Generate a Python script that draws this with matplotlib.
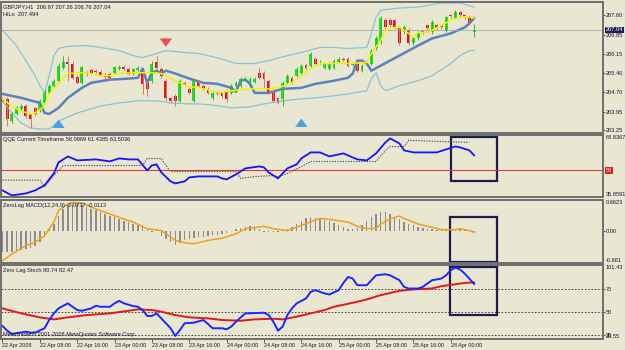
import matplotlib
matplotlib.use('Agg')
import matplotlib.pyplot as plt
import matplotlib.transforms as mtrans
from matplotlib.patches import Rectangle
import numpy as np

plt.rcParams['font.family'] = ['Liberation Sans', 'DejaVu Sans']

# ---- GBPJPY H1 candles (bar 0 = 22 Apr 2008 00:00) ----
opens = [204.43, 204.43, 203.59, 203.86, 204.05, 204.16, 203.86, 204.09, 203.97, 204.28,
         204.66, 204.93, 205.12, 205.62, 205.81, 205.77, 205.27, 205.04, 205.42, 205.54,
         205.50, 205.46, 205.35, 205.39, 205.42, 205.58, 205.65, 205.58, 205.39, 205.54,
         205.42, 205.04, 205.12, 205.81, 205.58, 205.12, 204.47, 204.55, 204.36, 205.04,
         204.81, 204.36, 205.08, 204.93, 204.81, 204.47, 204.66, 204.66, 204.74, 204.66,
         204.93, 204.93, 205.16, 204.93, 205.08, 205.42, 205.42, 205.12, 204.74, 204.47,
         204.43, 205.04, 205.23, 205.31, 205.42, 205.73, 205.69, 205.96, 205.81, 205.62,
         205.58, 205.62, 205.84, 205.96, 205.96, 205.73, 205.81, 205.50, 205.84, 205.77,
         206.34, 206.57, 207.41, 207.41, 207.41, 207.14, 206.95, 207.03, 206.53, 206.72,
         206.99, 207.22, 206.95, 207.22, 207.22, 207.03, 207.60, 207.49, 207.71, 207.60,
         207.49, 206.97]
highs = [204.50, 204.50, 203.92, 204.18, 204.24, 204.22, 203.90, 204.14, 204.42, 204.80,
         205.00, 205.18, 205.78, 206.07, 206.07, 205.85, 205.33, 205.68, 205.48, 205.60,
         205.56, 205.52, 205.40, 205.46, 205.68, 205.72, 205.70, 205.64, 205.62, 205.69,
         205.48, 205.08, 205.85, 206.07, 205.64, 205.20, 204.52, 204.60, 205.18, 205.10,
         204.88, 205.18, 205.14, 205.00, 204.88, 204.72, 204.72, 204.70, 204.80, 204.98,
         205.10, 205.26, 205.26, 205.26, 205.26, 205.62, 205.50, 205.18, 204.80, 204.52,
         205.10, 205.36, 205.30, 205.64, 205.76, 205.80, 206.20, 206.02, 205.90, 205.84,
         205.84, 205.94, 206.02, 206.00, 206.02, 205.84, 205.86, 205.76, 205.90, 206.32,
         206.80, 207.56, 207.50, 207.50, 207.46, 207.20, 207.22, 207.10, 206.78, 207.00,
         207.05, 207.28, 207.40, 207.30, 207.28, 207.58, 207.66, 207.78, 207.76, 207.66,
         207.56, 207.26]
lows = [204.30, 203.40, 203.52, 203.82, 204.00, 203.72, 203.33, 203.80, 203.92, 204.22,
        204.60, 204.88, 205.05, 205.55, 205.12, 205.18, 204.98, 204.98, 205.30, 205.36,
        205.40, 205.30, 205.20, 205.16, 205.36, 205.52, 205.52, 205.32, 205.34, 205.48,
        204.62, 204.55, 205.05, 205.55, 205.24, 204.40, 204.28, 204.16, 204.30, 204.92,
        204.60, 204.30, 204.88, 204.75, 204.60, 204.40, 204.56, 204.48, 204.30, 204.60,
        204.88, 204.88, 205.10, 204.88, 205.02, 205.18, 204.85, 204.60, 204.30, 204.22,
        204.16, 204.98, 204.98, 205.25, 205.36, 205.56, 205.62, 205.72, 205.76, 205.56,
        205.52, 205.56, 205.78, 205.86, 205.64, 205.66, 205.44, 205.44, 205.76, 205.70,
        206.28, 206.50, 207.08, 207.16, 207.08, 206.46, 206.90, 206.46, 206.48, 206.66,
        206.90, 207.04, 206.88, 207.04, 207.08, 206.98, 207.50, 207.44, 207.54, 207.46,
        207.24, 206.76]
closes = [204.36, 203.67, 203.86, 204.13, 204.16, 203.78, 203.67, 203.86, 204.36, 204.74,
          204.93, 205.12, 205.69, 205.81, 205.77, 205.23, 205.04, 205.62, 205.39, 205.42,
          205.46, 205.35, 205.27, 205.23, 205.62, 205.65, 205.58, 205.39, 205.58, 205.62,
          205.00, 204.81, 205.77, 205.62, 205.31, 204.47, 204.36, 204.36, 205.12, 204.97,
          204.66, 205.12, 204.93, 204.81, 204.66, 204.66, 204.62, 204.55, 204.43, 204.93,
          205.04, 205.20, 205.20, 205.20, 205.20, 205.23, 205.20, 204.66, 204.36, 204.28,
          205.04, 205.31, 205.04, 205.58, 205.69, 205.62, 206.15, 205.77, 205.84, 205.77,
          205.77, 205.88, 205.96, 205.92, 205.69, 205.77, 205.50, 205.69, 205.81, 206.26,
          206.72, 207.49, 207.14, 207.22, 207.14, 206.53, 207.14, 206.53, 206.72, 206.95,
          206.95, 207.10, 207.33, 207.10, 207.14, 207.52, 207.56, 207.71, 207.60, 207.52,
          207.29, 207.04]

# ---- main panel overlays (sampled at bar index) ----
ma_bars = [0, 2, 4, 6, 7, 9, 10, 12, 13, 14, 17, 19, 21, 23, 25, 27, 29, 32, 34, 35, 37, 40, 42, 44,
           46, 49, 53, 57, 59, 62, 64, 66, 68, 71, 74, 78, 79, 81, 82, 84, 85, 87, 88, 89, 91, 92,
           94, 96, 98, 100, 101]
ma_vals = [204.43, 204.16, 203.97, 203.86, 203.90, 204.16, 204.62, 205.00, 205.23, 205.39, 205.42,
           205.39, 205.31, 205.31, 205.39, 205.42, 205.42, 205.42, 205.39, 205.31, 205.12, 204.89,
           204.85, 204.78, 204.66, 204.74, 204.81, 204.81, 204.85, 205.04, 205.31, 205.58, 205.77,
           205.77, 205.77, 205.81, 206.15, 206.65, 207.03, 207.14, 207.14, 206.91, 206.76, 206.95,
           206.95, 207.03, 207.22, 207.41, 207.52, 207.56, 207.49]

trail_bars = [0, 4, 8, 9, 10, 12, 14, 17, 19, 23, 27, 29, 30, 31, 32, 33, 34, 35, 37, 40, 43, 46,
              49, 50, 51, 52, 53, 54, 57, 60, 64, 67, 71, 74, 75, 76, 77, 78, 79, 81, 85, 89, 92,
              96, 99, 100, 101]
trail_vals = [204.62, 204.47, 204.28, 203.90, 203.86, 204.09, 204.47, 204.85, 205.04, 205.16,
              205.20, 205.23, 205.58, 205.04, 205.42, 205.50, 205.39, 205.50, 205.39, 205.20,
              205.04, 205.00, 204.85, 204.70, 205.12, 205.16, 205.00, 204.66, 204.66, 204.81,
              204.85, 205.00, 205.12, 205.23, 205.39, 205.88, 205.88, 205.77, 205.50, 205.69,
              206.07, 206.45, 206.72, 206.91, 207.14, 207.29, 207.49]

bb_up_bars = [0, 3, 5, 7, 8, 9, 10, 11, 12, 14, 18, 21, 25, 28, 30, 33, 35, 39, 42, 46, 50, 54,
              57, 61, 64, 68, 71, 74, 78, 79, 80, 81, 85, 89, 94, 98, 101]
bb_up_vals = [207.03, 206.45, 205.88, 205.31, 204.93, 204.66, 205.31, 206.07, 206.34, 206.42,
              206.45, 206.38, 206.26, 206.07, 205.99, 206.15, 206.26, 206.19, 206.15, 205.99,
              205.77, 205.77, 205.88, 206.07, 206.19, 206.38, 206.38, 206.34, 206.38, 206.91,
              207.52, 207.79, 207.87, 207.91, 208.06, 208.06, 207.91]
bb_lo_bars = [0, 2, 4, 6, 8, 10, 12, 16, 21, 25, 29, 33, 36, 40, 42, 45, 49, 53, 56, 60, 64, 67,
              71, 74, 78, 79, 80, 81, 82, 85, 89, 92, 96, 98, 100, 101]
bb_lo_vals = [204.36, 203.90, 203.52, 203.33, 203.29, 203.29, 203.59, 203.90, 204.16, 204.28,
              204.36, 204.36, 204.28, 204.24, 204.24, 204.20, 204.09, 204.13, 204.24, 204.36,
              204.43, 204.47, 204.55, 204.62, 204.74, 205.20, 205.42, 204.93, 204.74, 204.93,
              205.12, 205.31, 205.77, 206.07, 206.26, 206.26]

arrow_dn_bars = [35]
arrow_dn_vals = [206.30]
arrow_up_bars = [12, 64]
arrow_up_vals = [203.75, 203.79]
price_ticks = [207.60, 206.85, 206.15, 205.40, 204.70, 203.95, 203.25]

# ---- QQE ----
qqe_bars = [0, 2, 5, 7, 9, 11, 12, 14, 15, 16, 20, 23, 25, 27, 29, 31, 32, 33, 34, 36, 37, 39, 40,
            42, 46, 47, 48, 50, 52, 55, 56, 57, 59, 61, 63, 64, 66, 68, 70, 73, 75, 76, 78, 80, 82,
            83, 85, 86, 88, 92, 93, 95, 97, 98, 100, 101]
qqe_vals = [39.37, 36.71, 37.77, 39.37, 42.03, 48.41, 54.26, 57.45, 56.39, 55.33, 55.86, 54.80,
            56.39, 55.86, 55.86, 50.00, 52.67, 53.20, 48.94, 44.15, 43.09, 44.15, 46.28, 46.81,
            46.81, 45.75, 45.22, 47.88, 51.07, 52.14, 51.60, 48.94, 45.75, 51.07, 53.20, 56.39,
            59.58, 59.58, 57.45, 59.05, 56.92, 55.86, 55.33, 59.05, 64.90, 67.03, 64.37, 60.65,
            59.58, 59.58, 59.58, 61.18, 62.77, 62.24, 60.65, 57.99]
qqe_trail_bars = [0, 8, 9, 11, 13, 30, 31, 34, 35, 36, 50, 51, 54, 58, 59, 61, 64, 66, 80, 82, 83,
                  86, 87, 100]
qqe_trail_vals = [44.84, 44.84, 41.43, 47.28, 52.60, 52.60, 56.32, 56.32, 52.60, 49.41, 49.41,
                  45.69, 46.75, 47.28, 46.75, 48.35, 52.07, 54.73, 54.73, 60.58, 62.71, 62.71,
                  65.97, 64.90]

# ---- ZeroLag MACD ----
macd_hist = [-0.45, -0.45, -0.44, -0.42, -0.40, -0.38, -0.36, -0.31, -0.24, -0.13,
             0.05, 0.15, 0.33, 0.47, 0.55, 0.60, 0.58, 0.55, 0.51, 0.47,
             0.44, 0.40, 0.37, 0.33, 0.29, 0.26, 0.22, 0.19, 0.15, 0.12,
             0.08, 0.02, -0.03, 0.02, -0.10, -0.17, -0.24, -0.29, -0.25, -0.20,
             -0.17, -0.15, -0.13, -0.12, -0.10, -0.09, -0.08, -0.06, -0.04, 0.01,
             0.04, 0.06, 0.08, 0.10, 0.09, 0.05, -0.01, -0.03, -0.02, -0.01,
             0.02, 0.05, 0.08, 0.15, 0.22, 0.27, 0.30, 0.28, 0.26, 0.23,
             0.21, 0.18, 0.13, 0.09, 0.05, 0.04, 0.06, 0.12, 0.22, 0.30,
             0.37, 0.40, 0.40, 0.36, 0.30, 0.25, 0.20, 0.15, 0.12, 0.09,
             0.07, 0.05, 0.04, 0.03, 0.02, 0.02, 0.03, 0.04, 0.04, 0.03,
             0.02, -0.03]
sig_bars = [0, 2, 5, 7, 9, 11, 12, 14, 15, 17, 19, 22, 25, 28, 31, 34, 35, 37, 39, 41, 44, 47, 50,
            52, 56, 58, 61, 63, 66, 68, 70, 74, 76, 78, 80, 81, 83, 85, 86, 89, 92, 94, 97, 98,
            100, 101]
sig_vals = [-0.63, -0.49, -0.31, -0.24, -0.10, 0.19, 0.44, 0.58, 0.61, 0.60, 0.51, 0.40, 0.29,
            0.19, 0.05, 0.01, -0.06, -0.20, -0.25, -0.27, -0.20, -0.15, -0.06, 0.05, 0.10, 0.05,
            0.01, 0.08, 0.20, 0.27, 0.25, 0.19, 0.10, 0.05, 0.06, 0.15, 0.26, 0.32, 0.27, 0.15,
            0.08, 0.03, 0.03, 0.05, 0.01, -0.03]

# ---- Zero Lag Stoch ----
k_bars = [0, 1, 2, 3, 5, 6, 7, 9, 10, 11, 12, 14, 15, 16, 17, 19, 20, 21, 23, 24, 25, 26, 28, 29,
          30, 31, 32, 33, 34, 36, 37, 38, 39, 41, 43, 44, 45, 47, 48, 49, 50, 52, 53, 56, 57, 58,
          59, 60, 61, 62, 63, 65, 66, 67, 68, 69, 70, 72, 73, 74, 75, 76, 77, 78, 79, 80, 82, 83,
          85, 86, 87, 89, 90, 91, 92, 94, 95, 96, 97, 98, 99, 101]
k_vals = [34.8, 29.7, 26.1, 26.8, 28.6, 27.5, 27.5, 32.3, 41.3, 48.6, 54.0, 59.5, 55.8, 52.2,
          51.4, 54.0, 56.9, 55.8, 55.8, 59.5, 62.3, 59.5, 56.5, 55.8, 52.2, 45.7, 45.7, 48.6,
          43.1, 32.3, 23.9, 30.4, 37.7, 38.4, 41.3, 37.0, 32.3, 32.3, 31.2, 34.1, 39.5, 48.6,
          48.6, 49.3, 46.7, 39.5, 29.7, 34.1, 46.7, 54.0, 59.5, 64.9, 72.1, 73.9, 72.1, 70.3,
          69.2, 73.9, 81.8, 88.4, 86.6, 79.3, 79.3, 79.3, 84.8, 90.2, 91.3, 90.2, 84.8, 77.5,
          75.7, 75.7, 77.5, 81.2, 84.8, 86.6, 90.2, 95.7, 98.6, 96.4, 92.0, 80.74]
d_bars = [0, 4, 8, 11, 14, 18, 23, 27, 29, 32, 34, 37, 40, 44, 47, 51, 54, 58, 60, 63, 66, 69, 71,
          75, 78, 81, 85, 88, 92, 94, 97, 99, 101]
d_vals = [54.0, 48.6, 44.2, 42.0, 44.2, 46.7, 48.6, 51.4, 52.9, 52.2, 50.4, 46.7, 44.2, 43.1,
          41.3, 40.5, 42.0, 42.7, 42.0, 44.9, 48.6, 52.2, 55.8, 60.1, 63.8, 68.5, 73.2, 74.7,
          75.8, 78.3, 80.4, 81.8, 82.47]

time_labels = ['22 Apr 2008', '22 Apr 08:00', '22 Apr 16:00', '23 Apr 00:00', '23 Apr 08:00',
               '23 Apr 16:00', '24 Apr 00:00', '24 Apr 08:00', '24 Apr 16:00', '25 Apr 00:00',
               '25 Apr 08:00', '25 Apr 16:00', '28 Apr 00:00']
time_label_bars = [0, 8, 16, 24, 32, 40, 48, 56, 64, 72, 80, 88, 96]

BG = '#e9e6d2'
TXT = '#141434'
FS = 4.1
W, H = 625.0, 350.0
XLIM = (-0.32, 128.6)

fig = plt.figure(figsize=(6.25, 3.5), dpi=100)
fig.patch.set_facecolor(BG)


def panel(top, bottom):
    ax = fig.add_axes([1 / W, 1 - bottom / H, 602 / W, (bottom - top) / H])
    ax.set_facecolor(BG)
    ax.set_xlim(*XLIM)
    for s in ax.spines.values():
        s.set_color('#6e6e6e')
        s.set_linewidth(1.4)
    ax.yaxis.tick_right()
    ax.tick_params(axis='y', labelsize=FS, colors=TXT, length=1.5, width=0.5, pad=0.8)
    ax.tick_params(axis='x', bottom=False, labelbottom=False)
    return ax


def edge_label(ax, val, text, va, **kw):
    tr = mtrans.blended_transform_factory(ax.transAxes, ax.transData)
    return ax.text(1.005, val, text, transform=tr, fontsize=FS, color=TXT, va=va, ha='left', **kw)


x = np.arange(len(opens))
o = np.array(opens); c = np.array(closes)
up = c >= o

# ================= main chart =================
ax0 = panel(2, 133)
ax0.set_ylim(203.14, 208.10)
ax0.plot(bb_up_bars, bb_up_vals, color='#86c4d8', lw=0.9)
ax0.plot(bb_lo_bars, bb_lo_vals, color='#86c4d8', lw=0.9)
ax0.plot(trail_bars, trail_vals, color='#5a82bc', lw=1.8)
ax0.axhline(closes[-1], color='#a8a8a8', lw=0.6)
ax0.vlines(x[up], np.array(lows)[up], np.array(highs)[up], color='#22c022', lw=0.7)
ax0.vlines(x[~up], np.array(lows)[~up], np.array(highs)[~up], color='#e07070', lw=0.7)
body_h = np.maximum(np.abs(c - o), 0.012)
ax0.bar(x[up], body_h[up], bottom=np.minimum(o, c)[up], width=0.62, color='#22e022', lw=0)
ax0.bar(x[~up], body_h[~up], bottom=np.minimum(o, c)[~up], width=0.62, color='#e01818', lw=0)
ax0.plot(ma_bars, ma_vals, color='#f4f400', lw=1.1)
for b, v in zip(arrow_dn_bars, arrow_dn_vals):
    ax0.annotate('', xy=(b, v), xytext=(0, 8), textcoords='offset points',
                 arrowprops=dict(arrowstyle='simple,head_width=0.9,head_length=0.6,tail_width=0.35',
                                 fc='#e85050', ec='none'))
for b, v in zip(arrow_up_bars, arrow_up_vals):
    ax0.annotate('', xy=(b, v), xytext=(0, -8), textcoords='offset points',
                 arrowprops=dict(arrowstyle='simple,head_width=0.9,head_length=0.6,tail_width=0.35',
                                 fc='#4aa0e0', ec='none'))
ax0.set_yticks(price_ticks)
ax0.set_yticklabels(['%.2f' % p for p in price_ticks])
t = edge_label(ax0, closes[-1], '%.2f' % closes[-1], 'center',
               bbox=dict(boxstyle='square,pad=0.15', fc='#1e1e5a', ec='none'))
t.set_color('white')
ax0.text(0.004, 0.985, 'GBPJPY,H1  %.2f %.2f %.2f %.2f' % (opens[-1], highs[-1], lows[-1], closes[-1]),
         transform=ax0.transAxes, fontsize=FS, color=TXT, va='top')
ax0.text(0.004, 0.925, 'HiLo  207.494', transform=ax0.transAxes, fontsize=FS, color=TXT, va='top')

# ================= QQE =================
ax1 = panel(135, 197)
ax1.set_ylim(35.8591, 68.8367)
ax1.axhline(50, color='#e03a3a', lw=0.8)
ax1.plot(qqe_trail_bars, qqe_trail_vals, color='#505050', lw=0.8, ls=(0, (1.2, 1.2)))
ax1.plot(qqe_bars, qqe_vals, color='#1414ff', lw=1.3)
ax1.add_patch(Rectangle((96, 44.2), 10, 23.4, fill=False, ec='#1e1e4e', lw=1.6))
ax1.set_yticks([])
edge_label(ax1, 68.8367, '68.8367', 'top')
edge_label(ax1, 35.8591, '35.8591', 'bottom')
t = edge_label(ax1, 50, '50', 'center', bbox=dict(boxstyle='square,pad=0.15', fc='#e02020', ec='none'))
t.set_color('#ffe0e0')
ax1.text(0.004, 0.96, 'QQE Current Timeframe 58.0969 61.4385 63.5036', transform=ax1.transAxes,
         fontsize=FS, color=TXT, va='top')

# ================= ZeroLag MACD =================
ax2 = panel(200, 263)
ax2.set_ylim(-0.681, 0.6623)
ax2.bar(x, macd_hist, width=0.32, color='#8c8c8c', lw=0)
ax2.plot(sig_bars, sig_vals, color='#f0a020', lw=1.1)
ax2.add_patch(Rectangle((95.8, -0.67), 10, 0.96, fill=False, ec='#1e1e4e', lw=1.6))
ax2.set_yticks([0])
ax2.set_yticklabels(['0.00'])
edge_label(ax2, 0.6623, '0.6623', 'top')
edge_label(ax2, -0.681, '-0.681', 'bottom')
ax2.text(0.004, 0.96, 'ZeroLag MACD(12,24,9) -0.0737 -0.0113', transform=ax2.transAxes,
         fontsize=FS, color=TXT, va='top')

# ================= Zero Lag Stoch =================
ax3 = panel(265, 339)
ax3.set_ylim(20.55, 101.43)
for lvl in (75, 50, 25):
    ax3.axhline(lvl, color='#303030', lw=0.6, ls=(0, (2, 2)))
ax3.plot(d_bars, d_vals, color='#e01a1a', lw=1.4)
ax3.plot(k_bars, k_vals, color='#1a28ff', lw=1.4)
ax3.add_patch(Rectangle((95.8, 47), 10.2, 52.5, fill=False, ec='#1e1e4e', lw=1.6))
ax3.set_yticks([75, 50, 25])
ax3.set_yticklabels(['75', '50', '25'])
edge_label(ax3, 101.43, '101.43', 'top')
# level 25 and the minimum 20.55 print on top of each other, as in the terminal
edge_label(ax3, 20.55, '20.55', 'bottom')
ax3.text(0.004, 0.025, 'MetaTrader\u00a9 2001-2008 MetaQuotes Software Corp.', transform=ax3.transAxes,
         fontsize=FS, color=TXT, va='bottom')
ax3.text(0.004, 0.965, 'Zero Lag Stoch 80.74 82.47', transform=ax3.transAxes,
         fontsize=FS, color=TXT, va='top')
ax3.set_xticks(time_label_bars)
ax3.set_xticklabels(time_labels)
ax3.tick_params(axis='x', bottom=True, labelbottom=True, labelsize=FS - 0.2, colors=TXT,
                length=2, width=0.5, pad=1)
for lab in ax3.get_xticklabels():
    lab.set_ha('left')

fig.savefig('out.png', dpi=100, facecolor=BG)
